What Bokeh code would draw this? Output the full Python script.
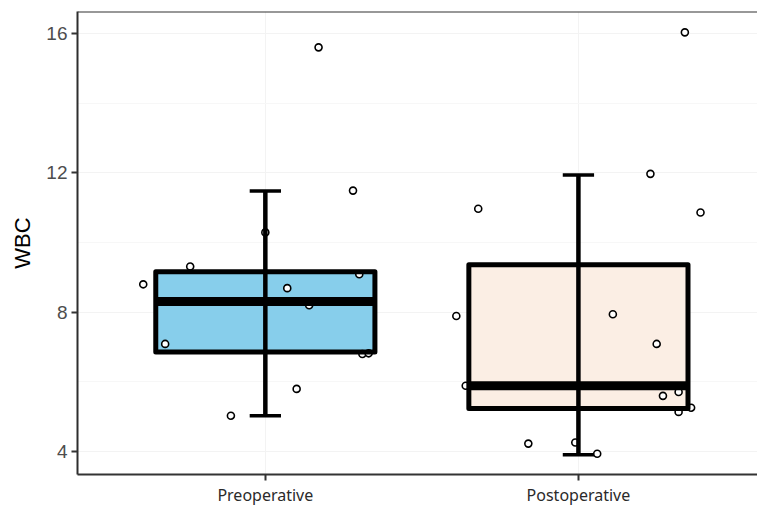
from bokeh.plotting import figure
from bokeh.models import FixedTicker, Span, ColumnDataSource
from bokeh.embed import file_html
from bokeh.resources import INLINE

# ---- data ----
categories = ["Preoperative", "Postoperative"]
q1 = [6.86, 5.24]
median = [8.31, 5.89]
q3 = [9.16, 9.36]
whisker_low = [5.03, 3.91]
whisker_high = [11.48, 11.94]

pre_values = [8.80, 7.09, 9.31, 5.03, 10.29, 8.69, 5.80, 8.20, 15.60, 11.49, 9.09, 6.80, 6.82]
pre_jitter = [-0.39, -0.32, -0.24, -0.11, 0.00, 0.07, 0.10, 0.14, 0.17, 0.28, 0.30, 0.31, 0.33]
post_values = [16.03, 11.97, 10.86, 10.97, 7.89, 7.94, 7.09, 5.89, 5.60, 5.71, 5.14, 5.26, 4.23, 4.26, 3.94]
post_jitter = [0.34, 0.23, 0.39, -0.32, -0.39, 0.11, 0.25, -0.36, 0.27, 0.32, 0.32, 0.36, -0.16, -0.01, 0.06]

y_ticks = [4, 8, 12, 16]
fills = ["#87CEEB", "#FBEEE4"]

# ---- figure ----
y_start, y_end = 3.343, 16.629
x_start, x_end = 0.4, 2.572
p = figure(width=757, height=508, output_backend="svg", toolbar_location=None,
           x_range=(x_start, x_end), y_range=(y_start, y_end),
           min_border_left=77, min_border_right=0, min_border_top=11, min_border_bottom=31)
p.outline_line_color = None
p.background_fill_color = "white"
p.border_fill_color = "white"

xs = [i + 1 for i in range(len(categories))]
half = 0.35

box_src = ColumnDataSource(dict(x=xs, left=[x - half for x in xs], right=[x + half for x in xs],
                                q1=q1, q3=q3, med=median, lo=whisker_low, hi=whisker_high,
                                cl=[x - 0.05 for x in xs], cr=[x + 0.05 for x in xs], fill=fills))

# grid
p.xgrid.ticker = FixedTicker(ticks=xs)
p.ygrid.ticker = FixedTicker(ticks=y_ticks, minor_ticks=[6, 10, 14])
p.xgrid.grid_line_color = "#f3f3f3"
p.ygrid.grid_line_color = "#f3f3f3"
p.ygrid.minor_grid_line_color = "#f7f7f7"
p.xgrid.minor_grid_line_color = None

# box fill
p.quad(left="left", right="right", bottom="q1", top="q3", source=box_src,
       fill_color="fill", line_color=None)

# points
all_x = [1 + j for j in pre_jitter] + [2 + j for j in post_jitter]
all_y = pre_values + post_values
p.scatter(all_x, all_y, size=7, marker="circle", fill_color="white",
          line_color="black", line_width=1.6)

# box outline
p.quad(left="left", right="right", bottom="q1", top="q3", source=box_src,
       fill_color=None, line_color="black", line_width=5, line_join="round")
# median
p.segment(x0="left", x1="right", y0="med", y1="med", source=box_src,
          line_color="black", line_width=9)
# whiskers
p.segment(x0="x", x1="x", y0="lo", y1="hi", source=box_src,
          line_color="black", line_width=4.5)
p.segment(x0="cl", x1="cr", y0="hi", y1="hi", source=box_src,
          line_color="black", line_width=3.5)
p.segment(x0="cl", x1="cr", y0="lo", y1="lo", source=box_src,
          line_color="black", line_width=3.5)

# top border
p.add_layout(Span(location=y_end, dimension="width", line_color="#333333", line_width=2))

# axes
p.xaxis.ticker = FixedTicker(ticks=xs)
p.xaxis.major_label_overrides = {x: c for x, c in zip(xs, categories)}
p.xaxis.major_label_text_font = "Noto Sans"
p.xaxis.major_label_text_font_size = "16px"
p.xaxis.major_label_text_color = "#2a2a2a"
p.xaxis.major_label_standoff = 3

p.yaxis.ticker = FixedTicker(ticks=y_ticks)
p.yaxis.major_label_text_font = "Liberation Sans"
p.yaxis.major_label_text_font_size = "19px"
p.yaxis.major_label_text_color = "#4d4d4d"
p.yaxis.major_label_standoff = 4
p.yaxis.axis_label = "WBC"
p.yaxis.axis_label_text_font = "Liberation Sans"
p.yaxis.axis_label_text_font_size = "22px"
p.yaxis.axis_label_text_font_style = "normal"
p.yaxis.axis_label_text_color = "black"
p.yaxis.axis_label_standoff = 8

p.xaxis.axis_line_color = "#333333"
p.yaxis.axis_line_color = "#2e2e2e"
for ax in (p.xaxis, p.yaxis):
    ax.axis_line_width = 2
    ax.major_tick_line_color = "#333333"
    ax.major_tick_line_width = 2
    ax.major_tick_out = 6
    ax.major_tick_in = 0
    ax.minor_tick_line_color = None

open("out.html", "w").write(file_html(p, INLINE))
